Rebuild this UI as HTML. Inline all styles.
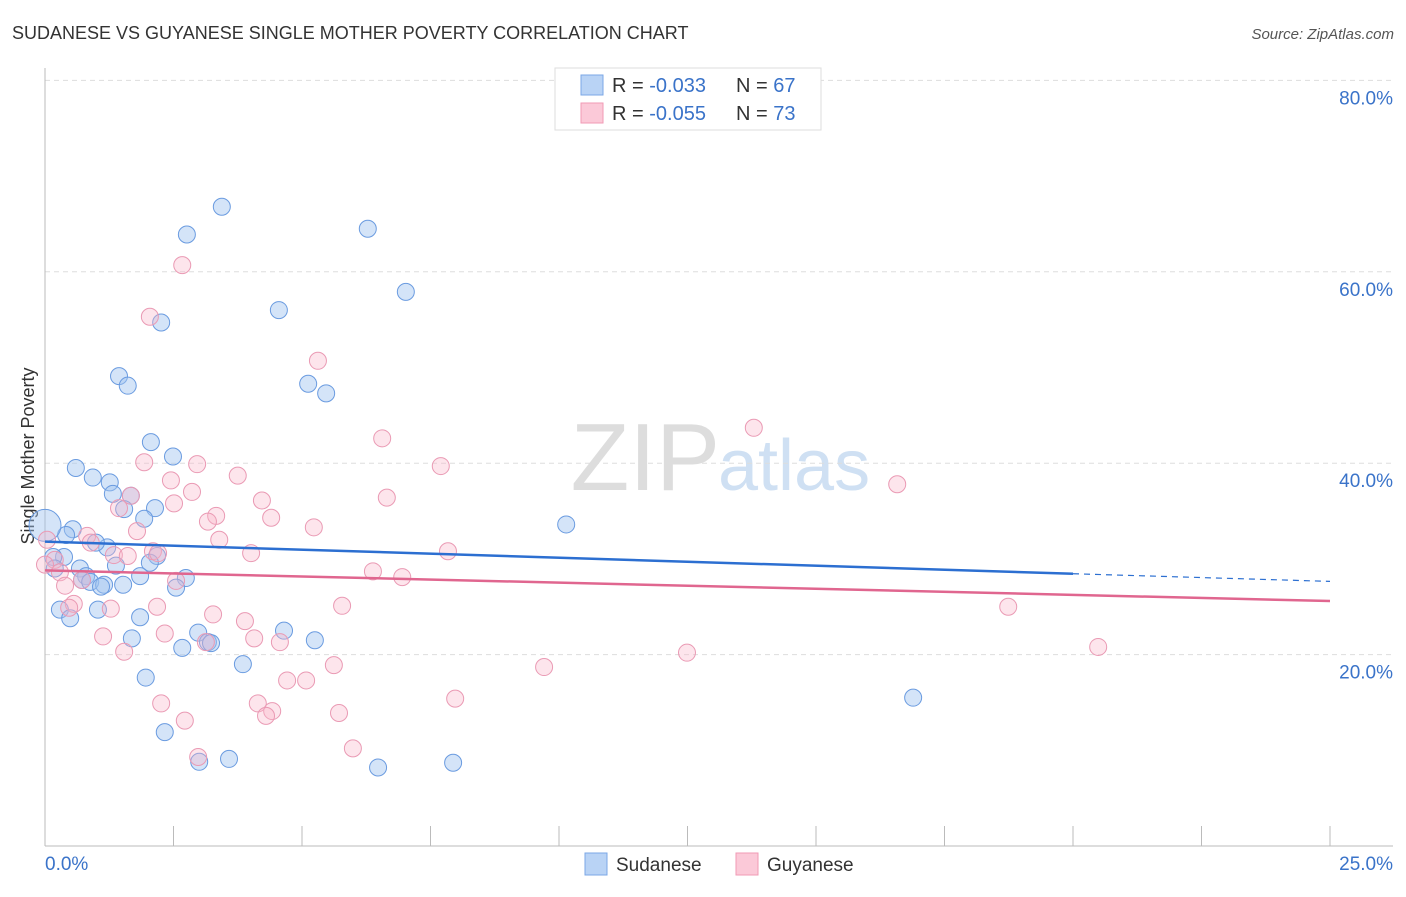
<!DOCTYPE html>
<html><head><meta charset="utf-8"><style>
body{margin:0;background:#fff;font-family:"Liberation Sans",sans-serif;}
svg text{font-family:"Liberation Sans",sans-serif;}
</style></head><body>
<svg id="c" width="1406" height="892" xmlns="http://www.w3.org/2000/svg">
<text x="12" y="39" font-size="18" fill="#333">SUDANESE VS GUYANESE SINGLE MOTHER POVERTY CORRELATION CHART</text>
<text x="1394" y="39" font-size="15" fill="#555" font-style="italic" text-anchor="end">Source: ZipAtlas.com</text>
<text x="0" y="0" transform="translate(34,456) rotate(-90)" font-size="18" fill="#333" text-anchor="middle">Single Mother Poverty</text>
<text x="720" y="490" font-size="96" fill="#ddd" text-anchor="end" font-family="Liberation Serif">ZIP</text>
<text x="718" y="490" font-size="72" fill="#cfe0f3">atlas</text>
<g id="grid"></g><g id="axes"></g><g id="pts"></g><g id="lines"></g>
<g>
<rect x="555" y="68" width="266" height="62" fill="#fff" stroke="#ddd"/>
<rect x="581" y="75" width="22" height="20" fill="#b9d3f5" stroke="#7ba7e6"/>
<rect x="581" y="103" width="22" height="20" fill="#fbc9d8" stroke="#f09ab5"/>
<text x="612" y="92" font-size="20" fill="#333">R = <tspan fill="#3a73c9">-0.033</tspan><tspan x="736">N = </tspan><tspan fill="#3a73c9">67</tspan></text>
<text x="612" y="120" font-size="20" fill="#333">R = <tspan fill="#3a73c9">-0.055</tspan><tspan x="736">N = </tspan><tspan fill="#3a73c9">73</tspan></text>
</g>
<g>
<rect x="585" y="853" width="22" height="22" fill="#b9d3f5" stroke="#7ba7e6"/>
<text x="616" y="871" font-size="19" fill="#333">Sudanese</text>
<rect x="736" y="853" width="22" height="22" fill="#fbc9d8" stroke="#f09ab5"/>
<text x="767" y="871" font-size="19" fill="#333">Guyanese</text>
</g>
</svg>
<script>
const blueX=[3.44,2.76,6.28,7.02,4.55,2.26,1.44,1.61,5.12,5.47,2.06,2.49,0.60,0.93,1.26,1.32,1.67,1.54,2.14,1.93,10.14,0.54,0.41,0,1.21,0.99,0.37,0.16,2.18,2.04,1.38,0.68,0.19,1.85,0.80,0.72,2.74,0.88,1.52,1.15,2.55,1.09,0.29,1.03,0.49,1.85,4.65,2.98,1.69,5.25,3.17,3.23,2.67,3.85,1.96,16.89,2.33,3.58,3.00,6.48,7.94];
const blueY=[66.8,63.9,64.5,57.9,56.0,54.7,49.1,48.1,48.3,47.3,42.2,40.7,39.5,38.5,38.0,36.8,36.6,35.2,35.3,34.2,33.6,33.1,32.5,33.5,31.2,31.7,30.2,30.2,30.3,29.6,29.3,29.0,29.0,28.2,28.2,27.8,28.0,27.6,27.3,27.3,27.0,27.1,24.7,24.7,23.8,23.9,22.5,22.3,21.7,21.5,21.3,21.2,20.7,19.0,17.6,15.5,11.9,9.1,8.8,8.2,8.7];
const pinkX=[2.67,2.04,5.31,6.56,13.79,1.93,2.96,7.70,3.75,2.45,2.86,1.67,6.65,4.22,2.51,1.44,3.33,3.17,4.40,5.23,1.79,0.82,3.39,0.89,0.04,7.84,2.10,4.01,2.20,1.34,1.61,0.19,0,0.29,6.38,6.95,2.55,0.39,0.72,16.58,0.56,0.47,1.28,2.18,5.78,3.27,3.89,18.74,1.13,2.33,4.07,4.57,3.13,1.54,12.49,20.49,5.62,9.71,4.71,5.08,2.26,4.14,7.98,4.42,4.30,5.72,2.72,5.99,2.98];
const pinkY=[60.7,55.3,50.7,42.6,43.7,40.1,39.9,39.7,38.7,38.2,37.0,36.6,36.4,36.1,35.8,35.3,34.5,33.9,34.3,33.3,32.9,32.4,32.0,31.7,32.0,30.8,30.8,30.6,30.6,30.4,30.3,29.9,29.4,28.6,28.7,28.1,27.7,27.2,27.8,37.8,25.3,24.9,24.8,25.0,25.1,24.2,23.5,25.0,21.9,22.2,21.7,21.3,21.3,20.3,20.2,20.8,18.9,18.7,17.3,17.3,14.9,14.9,15.4,14.1,13.6,13.9,13.1,10.2,9.3];
const yTicks=[20,40,60,80];
const xTickLabels=["0.0%","25.0%"];
const blueTrend=[31.8,28.45,27.65];
const pinkTrend=[28.8,25.6];
const X=v=>45+v*51.4, Y=v=>846-v*9.57;
const NS="http://www.w3.org/2000/svg";
function mk(t,a,p){const e=document.createElementNS(NS,t);for(const k in a)e.setAttribute(k,a[k]);p.appendChild(e);return e;}
const grid=document.getElementById('grid'),axes=document.getElementById('axes'),pts=document.getElementById('pts'),lines=document.getElementById('lines');
yTicks.forEach(t=>{
 const l=mk('line',{x1:45,x2:1393,y1:Y(t),y2:Y(t),stroke:'#ddd','stroke-dasharray':'5,4'},grid);
 
 
 const tx=mk('text',{x:1393,y:Y(t)+24,'font-size':19,fill:'#3a73c9','text-anchor':'end'},grid);
 tx.textContent=t.toFixed(1)+'%';
 
 
});
const ya=mk('line',{x1:45,x2:45,y1:68,y2:846,stroke:'#bbb'},axes);


const xa=mk('line',{x1:45,x2:1393,y1:846,y2:846,stroke:'#bbb'},axes);


for(let i=0;i<=10;i++){const tk=mk('line',{x1:X(i*2.5),x2:X(i*2.5),y1:826,y2:846,stroke:'#bbb'},axes);
 
 }
[[0,'start',45],[25,'end',1393]].forEach((d,i)=>{const t=mk('text',{x:d[2],y:870,'font-size':19,fill:'#3a73c9','text-anchor':d[1]},axes);t.textContent=xTickLabels[i];
 
 });
blueX.forEach((x,i)=>{const c=mk('circle',{cx:X(x),cy:Y(blueY[i]),r:(x===0?16:8.5),fill:'rgba(160,196,240,0.45)',stroke:'#6a9be0','stroke-width':1},pts);
 
 });
pinkX.forEach((x,i)=>{const c=mk('circle',{cx:X(x),cy:Y(pinkY[i]),r:8.5,fill:'rgba(248,180,200,0.35)',stroke:'#ea9ab4','stroke-width':1},pts);
 
 });
const b1=mk('line',{x1:X(0),y1:Y(blueTrend[0]),x2:X(20),y2:Y(blueTrend[1]),stroke:'#2c6fd1','stroke-width':2.5},lines);


const b2=mk('line',{x1:X(20),y1:Y(blueTrend[1]),x2:X(25),y2:Y(blueTrend[2]),stroke:'#2c6fd1','stroke-width':1.2,'stroke-dasharray':'6,5'},lines);


const p1=mk('line',{x1:X(0),y1:Y(pinkTrend[0]),x2:X(25),y2:Y(pinkTrend[1]),stroke:'#e0668f','stroke-width':2.5},lines);


</script>
</body></html>
